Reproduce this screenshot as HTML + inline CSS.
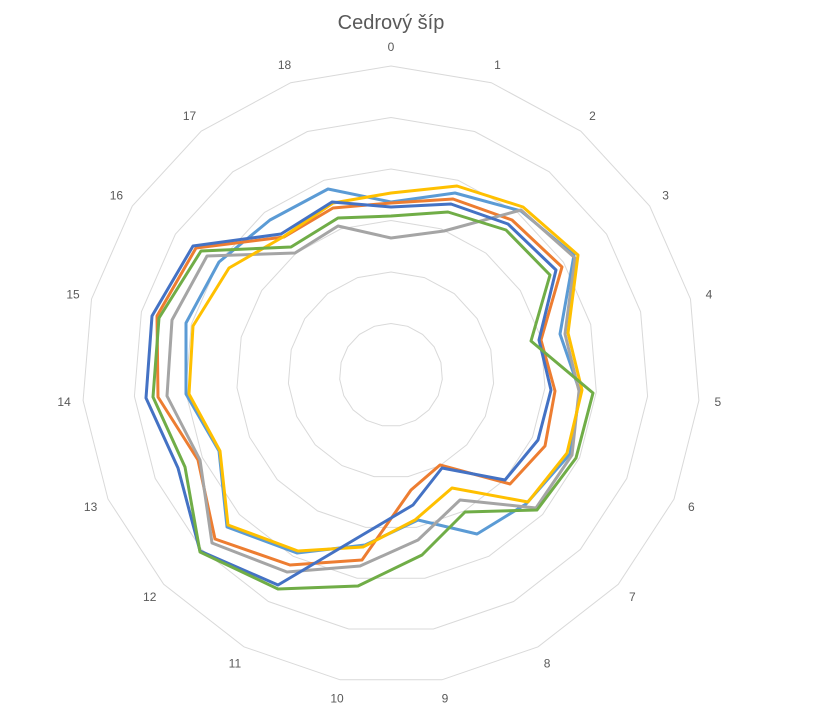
<!DOCTYPE html>
<html><head><meta charset="utf-8"><style>
html,body{margin:0;padding:0;background:#fff;}
svg{display:block;font-family:"Liberation Sans",sans-serif;}
</style></head><body>
<svg id="s" width="815" height="715" viewBox="0 0 815 715" xmlns="http://www.w3.org/2000/svg">
<rect width="815" height="715" fill="#fff"/>
<g id="grid" fill="none" stroke="#d9d9d9" stroke-width="1"></g>
<g id="labels" font-size="12" fill="#595959" text-anchor="middle"></g>
<text x="391" y="29" font-size="20" fill="#595959" text-anchor="middle">Cedrový šíp</text>
<g fill="none" stroke-width="3" stroke-linejoin="round">
<polygon stroke="#5B9BD5" points="391,202 455,193 521,211 574,255 560,334 580,392 570,454 526,504 477,534 418,520 365,545 297,553 227,527 219,451 186,394 186,323 219,262 270,220 328,189"/>
<polygon stroke="#ED7D31" points="391,203 453,199 512,220 562,267 541,340 555,391 545,446 510,484 440,465 411,490 362,560 290,565 215,539 198,460 158,397 157,316 196,248 284,237 333,208"/>
<polygon stroke="#A5A5A5" points="391,238 444,231 521,210 575,258 565,334 579,391 572,455 536,508 460,500 418,540 360,566 287,572 212,543 200,460 167,396 172,320 207,256 295,253 338,226"/>
<polygon stroke="#FFC000" points="391,193 457,186 523,207 578,255 568,333 582,390 567,453 528,502 452,488 415,520 363,547 298,551 228,525 220,451 189,394 193,326 229,268 283,237 333,203"/>
<polygon stroke="#4472C4" points="391,207 451,204 508,224 556,270 539,340 551,390 538,440 505,480 442,468 413,505 364,534 278,585 200,551 178,468 146,398 152,316 193,246 281,234 332,202"/>
<polygon stroke="#70AD47" points="391,216 448,212 506,230 550,275 531,341 593,393 576,458 537,510 465,512 422,555 358,586 278,589 200,552 185,467 153,397 159,318 201,251 291,247 338,218"/>
</g>
</svg>
<script>
var cx=391,cy=375,g=document.getElementById('grid'),L=document.getElementById('labels'),ns='http://www.w3.org/2000/svg';
for(var k=1;k<=6;k++){var r=51.5*k,p=[];for(var i=0;i<19;i++){var a=i*2*Math.PI/19;p.push((cx+r*Math.sin(a)).toFixed(1)+','+(cy-r*Math.cos(a)).toFixed(1));}
var e=document.createElementNS(ns,'polygon');e.setAttribute('points',p.join(' '));g.appendChild(e);}
for(var i=0;i<19;i++){var a=i*2*Math.PI/19,r=328;var t=document.createElementNS(ns,'text');t.setAttribute('x',(cx+r*Math.sin(a)).toFixed(1));t.setAttribute('y',(cy-r*Math.cos(a)+4).toFixed(1));t.textContent=i;L.appendChild(t);}
</script>
</body></html>
